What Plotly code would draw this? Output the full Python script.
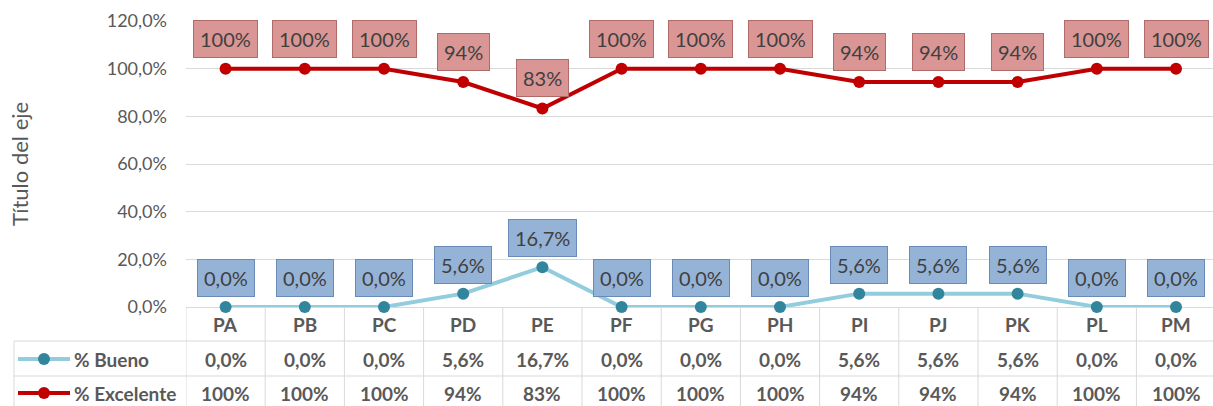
import plotly.graph_objects as go

categories = ["PA", "PB", "PC", "PD", "PE", "PF", "PG", "PH", "PI", "PJ", "PK", "PL", "PM"]
bueno = [0.0, 0.0, 0.0, 0.056, 0.167, 0.0, 0.0, 0.0, 0.056, 0.056, 0.056, 0.0, 0.0]
excelente = [1.0, 1.0, 1.0, 0.944, 0.833, 1.0, 1.0, 1.0, 0.944, 0.944, 0.944, 1.0, 1.0]
series_names = ["% Bueno", "% Excelente"]
y_ticks = [0, 0.2, 0.4, 0.6, 0.8, 1.0, 1.2]
y_title = "Título del eje"

W, H = 1213, 406
L, R, T, B = 186, 0, 21, 99
PW = W - L - R
PH = H - T - B
FONT = "Lato"
GRAY = "#595959"
GRID = "#D9D9D9"

C_EXC_LINE = "#C00000"
C_BUE_LINE = "#93CDDD"
C_BUE_MK = "#31859C"


def fmt1(v):
    return f"{v*100:.1f}%".replace(".", ",")


def fmt0(v):
    return f"{v*100:.0f}%"


def py(pix):
    return (T + PH - pix) / PH


def px(pix):
    return (pix - L) / PW


fig = go.Figure()
fig.add_trace(go.Scatter(x=categories, y=bueno, mode="lines+markers", name=series_names[0],
                         line=dict(color=C_BUE_LINE, width=4),
                         marker=dict(color=C_BUE_MK, size=12), cliponaxis=False, showlegend=False))
fig.add_trace(go.Scatter(x=categories, y=excelente, mode="lines+markers", name=series_names[1],
                         line=dict(color=C_EXC_LINE, width=4),
                         marker=dict(color=C_EXC_LINE, size=12), cliponaxis=False, showlegend=False))

ann = []
shapes = []
# data labels
for c, v in zip(categories, bueno):
    ann.append(dict(x=c, y=v, xref="x", yref="y", text=fmt1(v), showarrow=False, yshift=29,
                    xanchor="center", yanchor="middle",
                    bgcolor="#95B3D7", bordercolor="#6A8BB8", borderwidth=1, borderpad=6,
                    font=dict(family=FONT, size=20, color="#404040")))
for c, v in zip(categories, excelente):
    ann.append(dict(x=c, y=v, xref="x", yref="y", text=fmt0(v), showarrow=False, yshift=30,
                    xanchor="center", yanchor="middle",
                    bgcolor="#D99694", bordercolor="#B06A68", borderwidth=1, borderpad=6,
                    font=dict(family=FONT, size=20, color="#404040")))

# table: category header + values
for i, c in enumerate(categories):
    for yy, txt in [(324, c), (359, fmt1(bueno[i])), (393, fmt0(excelente[i]))]:
        ann.append(dict(x=c, y=py(yy), xref="x", yref="paper", text=f"<b>{txt}</b>", showarrow=False,
                        xanchor="center", yanchor="middle",
                        font=dict(family=FONT, size=19, color=GRAY)))

# legend text in table
for name, yy in zip(series_names, [359, 393]):
    ann.append(dict(x=px(72), y=py(yy), xref="paper", yref="paper", text=f"<b>{name}</b>", showarrow=False,
                    xanchor="left", yanchor="middle", font=dict(family=FONT, size=19, color=GRAY)))

# axis title
ann.append(dict(x=px(19), y=py(164), xref="paper", yref="paper", text=y_title, textangle=-90, showarrow=False,
                xanchor="center", yanchor="middle",
                font=dict(family=FONT, size=22, color=GRAY)))

# table grid lines
for i in range(len(categories) + 1):
    shapes.append(dict(type="line", xref="x", yref="paper", x0=i - 0.5, x1=i - 0.5, y0=0, y1=py(420),
                       line=dict(color=GRID, width=1)))
for yy in [341, 376]:
    shapes.append(dict(type="line", xref="paper", yref="paper", x0=px(14), x1=1.01, y0=py(yy), y1=py(yy),
                       line=dict(color=GRID, width=1)))
shapes.append(dict(type="line", xref="paper", yref="paper", x0=px(14), x1=px(14), y0=py(341), y1=py(420),
                   line=dict(color=GRID, width=1)))

# legend symbols
for yy, lc, mc in [(359, C_BUE_LINE, C_BUE_MK), (393, C_EXC_LINE, C_EXC_LINE)]:
    shapes.append(dict(type="line", xref="paper", yref="paper", x0=px(18), x1=px(70), y0=py(yy), y1=py(yy),
                       line=dict(color=lc, width=4)))
    shapes.append(dict(type="circle", xref="paper", yref="paper", xsizemode="pixel", ysizemode="pixel",
                       xanchor=px(44), yanchor=py(yy), x0=-6, x1=6, y0=-6, y1=6,
                       fillcolor=mc, line=dict(color=mc, width=0)))

fig.update_layout(
    width=W, height=H,
    margin=dict(l=L, r=R, t=T, b=B, autoexpand=False),
    plot_bgcolor="white", paper_bgcolor="white",
    separators=",.",
    font=dict(family=FONT, size=18, color=GRAY),
    xaxis=dict(type="category", range=[-0.5, len(categories) - 0.533], showticklabels=False,
               showgrid=False, zeroline=False, showline=False, fixedrange=True),
    yaxis=dict(range=[0, 1.2], tickvals=y_ticks, tickformat=".1%", showgrid=True, gridcolor=GRID,
               gridwidth=1, zeroline=True, zerolinecolor=GRID, zerolinewidth=1, showline=False,
               ticklabelstandoff=18, tickfont=dict(family=FONT, size=18, color=GRAY)),
    annotations=ann,
    shapes=shapes,
)

fig.write_html("out.html", config={"displayModeBar": False},
               post_script="document.body.style.margin='0';document.body.style.overflow='hidden';")
